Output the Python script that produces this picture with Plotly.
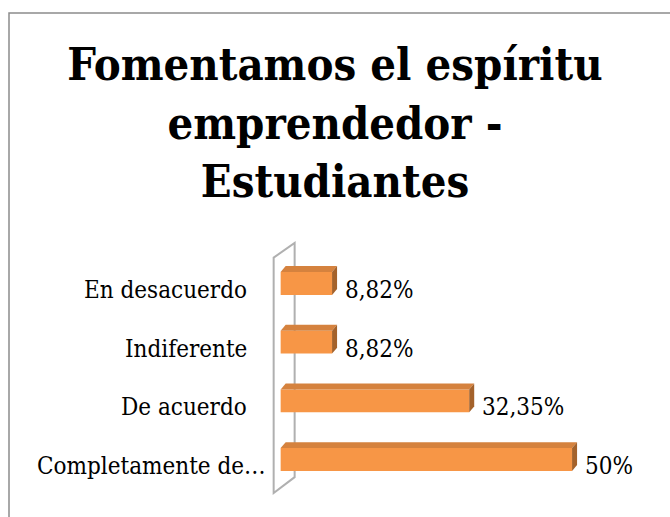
import plotly.graph_objects as go

categories = ["Completamente de…", "De acuerdo", "Indiferente", "En desacuerdo"]
values = [50, 32.35, 8.82, 8.82]
value_labels = ["50%", "32,35%", "8,82%", "8,82%"]
title = "Fomentamos el espíritu<br>emprendedor -<br>Estudiantes"

W, H = 670, 517
ML, MR, MT, MB = 269, 28, 240, 7
XR = [-2, 62]
YR = [-0.75, 3.85]

FRONT = "#F79646"
TOP = "#D5823E"
SIDE = "#A4622B"
FONT = "DejaVu Serif Condensed, DejaVu Serif, serif"

positions = list(range(len(categories)))
bw, boff = 0.39, 0.11     # bar thickness and upward shift (y units)
dx, dy = 0.86, 0.10       # fake 3d depth (x units, y units)

fig = go.Figure(go.Bar(
    x=values,
    y=positions,
    orientation="h",
    width=bw,
    offset=boff - bw / 2,
    marker=dict(color=FRONT, line=dict(width=0)),
    hoverinfo="skip",
))

shapes = []

# back wall
wx0, wx1 = -1.2, 2.4
shapes.append(dict(
    type="path", xref="x", yref="y",
    path=f"M{wx0},{3.55} L{wx1},{3.80} L{wx1},{-0.19} L{wx0},{-0.46} Z",
    line=dict(color="#b0b0b0", width=2), fillcolor="rgba(255,255,255,0)", layer="below",
))

for p, v in zip(positions, values):
    yt = p + boff + bw / 2
    yb = p + boff - bw / 2
    shapes.append(dict(
        type="path", xref="x", yref="y",
        path=f"M0,{yt} L{v},{yt} L{v + dx},{yt + dy} L{dx},{yt + dy} Z",
        fillcolor=TOP, line=dict(width=0),
    ))
    shapes.append(dict(
        type="path", xref="x", yref="y",
        path=f"M{v},{yb} L{v},{yt} L{v + dx},{yt + dy} L{v + dx},{yb + dy} Z",
        fillcolor=SIDE, line=dict(width=0),
    ))

# outer chart border (only top and left visible)
pw, ph = W - ML - MR, H - MT - MB
bx = (9 - ML) / pw
by = 1 + (MT - 13) / ph
shapes.append(dict(
    type="path", xref="paper", yref="paper",
    path=f"M{bx},{-0.2} L{bx},{by} L{1.3},{by}",
    line=dict(color="#8c8c8c", width=1.5),
))

annotations = [
    dict(x=v, y=p, text=t, xref="x", yref="y", xanchor="left", yanchor="middle",
         xshift=11, showarrow=False, font=dict(family=FONT, size=24, color="black"))
    for p, v, t in zip(positions, values, value_labels)
]

# category labels (the truncated one sits closer to the wall, like excel does)
for p, c in zip(positions, categories):
    annotations.append(dict(
        x=0, y=p, text=c, xref="paper", yref="y", xanchor="right", yanchor="middle",
        xshift=-1 if c.endswith("…") else -20, showarrow=False,
        font=dict(family=FONT, size=24, color="black"),
    ))

fig.update_layout(
    width=W, height=H,
    margin=dict(l=ML, r=MR, t=MT, b=MB),
    paper_bgcolor="white", plot_bgcolor="white",
    showlegend=False,
    shapes=shapes,
    annotations=annotations,
    title=dict(
        text=f"<b>{title}</b>",
        x=0.5, xanchor="center", xref="container",
        y=1 - 80 / H, yanchor="top", yref="container",
        font=dict(family=FONT, size=45, color="black"),
    ),
    xaxis=dict(range=XR, visible=False, fixedrange=True),
    yaxis=dict(range=YR, visible=False, fixedrange=True),
)

fig.write_html("out.html", config={"displayModeBar": False},
               post_script="document.body.style.margin='0';")
